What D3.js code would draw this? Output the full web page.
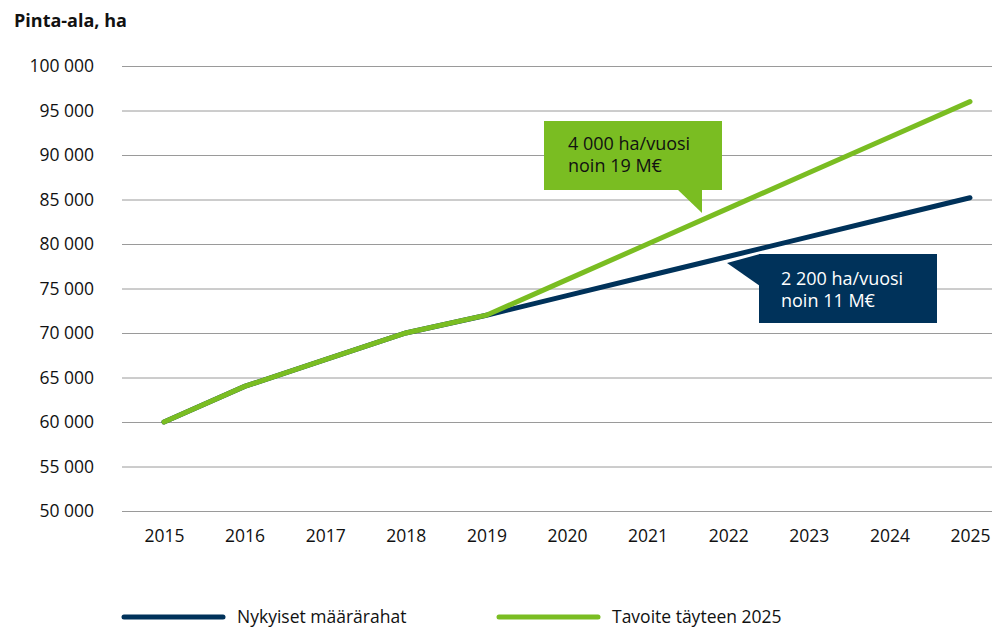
<!DOCTYPE html>
<html lang="fi">
<head>
    <meta charset="UTF-8">
    <title>Pinta-ala</title>
    <style>
        body { margin: 0; background: #fff; }
        text { font-family: "Open Sans", "Noto Sans", sans-serif; fill: #111; }
    </style>
    <script src="https://cdn.jsdelivr.net/npm/d3@7/dist/d3.min.js"></script>
</head>
<body>
    <script>
        const years = [2015, 2016, 2017, 2018, 2019, 2020, 2021, 2022, 2023, 2024, 2025]
        const nykyiset = [60000, 64000, 67000, 70000, 72000, 74200, 76400, 78600, 80800, 83000, 85200]
        const tavoite = [60000, 64000, 67000, 70000, 72000, 76000, 80000, 84000, 88000, 92000, 96000]
        const yTicks = [50000, 55000, 60000, 65000, 70000, 75000, 80000, 85000, 90000, 95000, 100000]
        const seriesNames = ['Nykyiset määrärahat', 'Tavoite täyteen 2025']
        const notes = [['4 000 ha/vuosi', 'noin 19 M€'], ['2 200 ha/vuosi', 'noin 11 M€']]

        const width = 996
        const height = 629
        const navy = '#00325a'
        const green = '#7abd22'

        const svg = d3.select('body').append('svg').attr('width', width).attr('height', height)

        const x = d3.scalePoint().domain(years).range([164, 970])
        const y = d3.scaleLinear().domain([50000, 100000]).range([511, 66])
        const fmt = v => d3.format(',')(v).replace(',', ' ')

        // gridlines + y labels
        const yAxis = d3.axisLeft(y).tickValues(yTicks).tickSize(-870).tickFormat(fmt).tickPadding(28)
        const gy = svg.append('g').attr('transform', 'translate(122,0)').call(yAxis)
        gy.select('.domain').remove()
        gy.selectAll('line').attr('stroke', '#9a9a9a').attr('stroke-width', 1)
        gy.selectAll('text').attr('font-size', 17.5).attr('fill', '#111')

        // x labels
        const xAxis = d3.axisBottom(x).tickSize(0).tickPadding(0)
        const gx = svg.append('g').attr('transform', 'translate(0,530)').call(xAxis)
        gx.select('.domain').remove()
        gx.selectAll('text').attr('font-size', 17.5).attr('fill', '#111')

        svg.append('text').attr('x', 14).attr('y', 27)
            .attr('font-size', 18).attr('font-weight', 'bold').text('Pinta-ala, ha')

        const line = d3.line().x((d, i) => x(years[i])).y(d => y(d))
        svg.append('path').datum(nykyiset).attr('d', line)
            .attr('fill', 'none').attr('stroke', navy).attr('stroke-width', 5).attr('stroke-linecap', 'round')
        svg.append('path').datum(tavoite).attr('d', line)
            .attr('fill', 'none').attr('stroke', green).attr('stroke-width', 5).attr('stroke-linecap', 'round')

        // callouts
        svg.append('rect').attr('x', 544).attr('y', 121).attr('width', 178).attr('height', 69).attr('fill', green)
        svg.append('path').attr('d', 'M677,189 L702,189 L702,213 Z').attr('fill', green)
        svg.append('rect').attr('x', 759).attr('y', 254).attr('width', 178).attr('height', 69).attr('fill', navy)
        svg.append('path').attr('d', 'M760,254 L760,286 L727,263 Z').attr('fill', navy)

        svg.append('g').selectAll('text').data(notes[0]).join('text')
            .attr('x', 568).attr('y', (d, i) => 150 + i * 22)
            .attr('font-size', 18).attr('fill', '#111').text(d => d)
        svg.append('g').selectAll('text').data(notes[1]).join('text')
            .attr('x', 781).attr('y', (d, i) => 285 + i * 22)
            .attr('font-size', 18).style('fill', '#fff').text(d => d)

        // legend
        const legend = svg.append('g').selectAll('g').data(seriesNames).join('g')
            .attr('transform', (d, i) => `translate(${122 + i * 375},617)`)
        legend.append('line').attr('x1', 2).attr('x2', 101).attr('y1', 0).attr('y2', 0)
            .attr('stroke', (d, i) => i ? green : navy).attr('stroke-width', 5).attr('stroke-linecap', 'round')
        legend.append('text').attr('x', 115).attr('y', 6).attr('font-size', 17.5).text(d => d)
    </script>
</body>
</html>
